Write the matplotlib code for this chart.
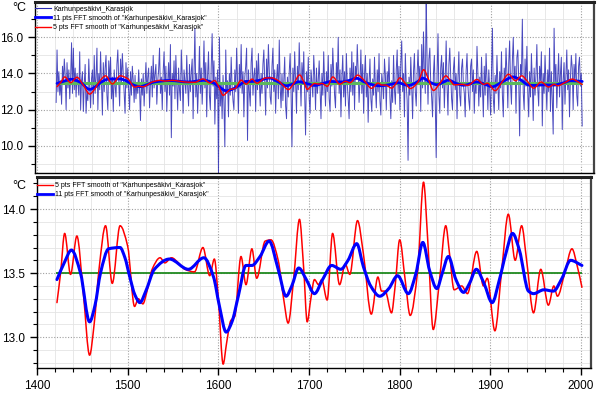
import numpy as np
import matplotlib
matplotlib.use("Agg")
import matplotlib.pyplot as plt
from matplotlib.ticker import MultipleLocator, FormatStrFormatter
from matplotlib.path import Path
from matplotlib.patches import PathPatch
from matplotlib.lines import Line2D

plt.rcParams['font.family'] = ['Liberation Sans', 'DejaVu Sans']

# ---------------- data ----------------
start_year = 1421
annual = [
    12.4, 15.3, 13.0, 14.1, 12.8, 13.6, 12.3, 14.4, 13.5, 14.8,
    13.9, 12.0, 14.6, 13.2, 14.2, 12.6, 13.8, 15.7, 12.9, 15.4,
    13.1, 14.3, 12.7, 14.0, 13.5, 12.8, 15.2, 12.0, 13.6, 14.1,
    11.9, 13.4, 14.5, 11.8, 13.0, 12.5, 14.8, 13.2, 12.1, 13.7,
    14.2, 12.3, 15.0, 12.9, 13.8, 15.4, 12.0, 14.0, 13.1, 15.2,
    13.4, 11.7, 14.6, 13.0, 14.3, 15.0, 12.8, 12.0, 14.7, 13.5,
    14.9, 12.6, 13.8, 11.9, 14.2, 13.3, 12.7, 14.5, 15.3, 13.6,
    12.2, 14.8, 13.5, 15.1, 14.0, 12.9, 11.8, 14.6, 13.2, 14.3,
    13.0, 12.0, 14.1, 12.8, 14.4, 13.6, 12.4, 13.9, 12.6, 13.5,
    12.9, 14.2, 13.1, 11.4, 13.7, 12.8, 14.0, 12.2, 13.4, 14.6,
    12.9, 13.8, 14.3, 12.1, 13.5, 14.4, 12.7, 15.0, 13.2, 14.0,
    14.5, 12.3, 13.6, 14.2, 15.4, 12.9, 13.8, 12.0, 14.1, 15.2,
    13.0, 14.4, 11.9, 13.5, 14.6, 12.8, 15.6, 10.45, 14.0, 13.3,
    14.7, 12.6, 15.0, 13.4, 12.0, 14.3, 13.1, 12.5, 15.3, 13.8,
    11.8, 14.2, 13.6, 12.9, 15.0, 13.3, 12.2, 14.5, 13.0, 14.1,
    14.8, 11.5, 13.9, 16.5, 12.7, 14.0, 11.8, 13.4, 15.5, 12.9,
    14.3, 12.3, 13.7, 15.8, 13.2, 14.6, 11.6, 13.9, 15.2, 12.8,
    12.0, 14.4, 16.2, 13.3, 14.7, 11.2, 13.8, 12.6, 14.2, 8.4,
    16.0, 12.2, 13.5, 11.5, 13.9, 12.4, 9.95, 15.3, 12.9, 13.6,
    11.6, 14.0, 12.8, 14.9, 13.3, 12.5, 12.0, 14.2, 13.0, 15.4,
    13.7, 11.8, 14.5, 13.2, 15.6, 12.9, 14.1, 11.6, 13.8, 14.4,
    15.4, 10.3, 14.2, 13.0, 12.2, 14.6, 15.4, 12.8, 13.9, 14.3,
    11.9, 14.7, 13.1, 15.1, 13.6, 12.2, 14.0, 12.9, 14.5, 15.3,
    13.4, 11.7, 14.8, 13.2, 15.6, 14.1, 12.7, 12.3, 14.4, 15.4,
    13.0, 14.2, 11.8, 13.7, 14.5, 12.6, 15.85, 13.3, 12.1, 14.0,
    12.5, 13.6, 14.9, 12.2, 11.5, 13.8, 12.7, 14.1, 15.1, 12.9,
    9.95, 14.3, 13.0, 15.2, 13.6, 11.8, 14.4, 13.1, 15.7, 14.0,
    12.2, 14.6, 13.4, 15.2, 12.8, 10.6, 14.1, 13.0, 14.9, 12.6,
    11.8, 14.2, 13.5, 12.7, 15.0, 13.9, 12.0, 14.3, 12.9, 13.6,
    14.7, 13.1, 11.5, 14.0, 12.8, 15.2, 13.4, 12.2, 14.1, 13.0,
    15.0, 12.6, 11.9, 14.5, 13.3, 15.4, 14.0, 12.8, 12.1, 14.6,
    13.5, 16.0, 12.9, 14.2, 11.6, 13.8, 15.0, 12.7, 14.1, 12.2,
    15.1, 13.4, 12.6, 11.5, 14.3, 13.0, 15.2, 12.8, 14.6, 12.0,
    14.4, 13.7, 15.6, 14.1, 12.4, 13.6, 15.3, 12.9, 14.5, 11.8,
    13.9, 15.0, 12.7, 14.0, 11.3, 13.5, 14.8, 12.6, 11.9, 13.7,
    12.8, 14.9, 13.2, 12.1, 14.2, 13.0, 15.1, 12.5, 11.7, 14.0,
    13.4, 12.6, 14.8, 13.9, 12.0, 14.1, 13.3, 14.9, 12.7, 11.5,
    13.6, 12.4, 15.0, 13.1, 12.3, 14.2, 15.3, 12.9, 14.4, 12.0,
    14.6, 15.8, 13.0, 14.0, 11.6, 15.1, 13.4, 12.5, 9.2, 13.8,
    12.8, 14.9, 13.3, 11.5, 14.1, 15.1, 13.0, 12.2, 14.0, 15.3,
    13.6, 14.4, 11.9, 15.6, 13.2, 16.3, 14.1, 12.9, 18.3, 14.6,
    12.3, 14.8, 15.4, 13.5, 12.7, 11.6, 14.0, 15.0, 12.4, 9.35,
    13.9, 16.2, 12.8, 11.8, 14.3, 15.0, 13.2, 14.6, 12.1, 13.7,
    15.8, 13.3, 11.7, 14.5, 15.4, 13.9, 12.6, 12.0, 14.2, 14.9,
    13.1, 14.0, 11.5, 13.7, 15.2, 12.8, 12.2, 14.3, 14.8, 13.4,
    12.9, 11.6, 14.1, 15.1, 13.3, 12.5, 12.0, 14.4, 14.8, 13.0,
    14.2, 11.8, 13.6, 12.9, 15.5, 14.0, 12.2, 13.8, 12.7, 14.9,
    13.3, 11.6, 14.4, 12.8, 15.1, 13.7, 12.0, 14.2, 13.1, 11.7,
    14.0, 16.5, 12.6, 11.8, 13.9, 12.9, 15.0, 13.4, 12.0, 14.1,
    13.2, 15.2, 12.8, 11.6, 14.3, 13.5, 15.4, 14.0, 12.1, 14.6,
    15.8, 13.4, 12.3, 14.7, 16.0, 13.6, 14.4, 11.8, 14.9, 15.3,
    13.7, 10.55, 14.5, 13.9, 17.0, 12.9, 12.0, 14.8, 13.3, 15.5,
    13.0, 11.6, 14.1, 12.7, 15.1, 13.5, 11.4, 14.3, 12.8, 13.9,
    15.6, 13.2, 12.2, 14.4, 13.6, 15.2, 11.1, 14.0, 12.9, 15.0,
    13.5, 12.0, 14.2, 13.0, 15.4, 11.9, 14.1, 12.6, 10.65, 16.5,
    13.4, 14.5, 12.1, 13.8, 15.1, 12.7, 14.0, 14.9, 10.9, 13.6,
    14.6, 12.3, 13.9, 15.3, 13.1, 14.2, 11.6, 13.7, 15.0, 14.3,
    12.0, 14.5, 13.6, 15.1, 12.8, 12.2, 14.4, 14.9, 13.3, 14.0,
    11.1,
]
years = np.arange(start_year, start_year + len(annual))

s11_years = [1422, 1430, 1438, 1448, 1458, 1464, 1470, 1479, 1491.6, 1497, 1502,
             1508, 1513.5, 1520, 1529.5, 1546, 1567, 1584, 1594.7, 1601, 1608.6,
             1615, 1622, 1630.5, 1637, 1646, 1656, 1666, 1674.7, 1681, 1688.6,
             1697, 1706, 1715, 1725, 1735, 1743, 1752.6, 1760, 1768, 1778, 1788,
             1797.7, 1809.5, 1818, 1825.5, 1833, 1841, 1847, 1853.7, 1862, 1870.5,
             1877, 1884.5, 1893, 1902, 1910, 1917, 1924.5, 1932, 1942, 1947.6,
             1959, 1969.5, 1979, 1988.4, 2001]
s11_vals = [13.45, 13.58, 13.68, 13.50, 13.12, 13.25, 13.50, 13.69, 13.70, 13.62, 13.48,
            13.33, 13.27, 13.36, 13.53, 13.61, 13.53, 13.62, 13.47, 13.25, 13.04,
            13.12, 13.32, 13.56, 13.56, 13.63, 13.75, 13.53, 13.32, 13.40, 13.54,
            13.45, 13.34, 13.45, 13.56, 13.53, 13.60, 13.73, 13.55, 13.40, 13.32, 13.38,
            13.48, 13.34, 13.50, 13.74, 13.52, 13.38, 13.50, 13.63, 13.45, 13.35,
            13.42, 13.53, 13.42, 13.27, 13.45, 13.65, 13.81, 13.68, 13.36, 13.34,
            13.37, 13.36, 13.46, 13.60, 13.56]

s5_years = [1422, 1426, 1430.5, 1437, 1444, 1451, 1458, 1463, 1468.4, 1475.6, 1483,
            1491.6, 1500, 1507.6, 1511.7, 1516.8, 1521, 1527, 1535.8, 1541, 1548.4,
            1556, 1563, 1573.7, 1583, 1590.5, 1595.6, 1600, 1605.3, 1609, 1613.7,
            1618, 1625, 1630.5, 1637, 1642.3, 1651.6, 1658, 1666, 1672, 1677, 1683,
            1689.5, 1694, 1698, 1702, 1706, 1710.5, 1714, 1720, 1726, 1733.7, 1740,
            1745, 1753.5, 1760, 1768.7, 1776, 1780, 1784, 1791, 1795, 1800, 1806,
            1811.6, 1820, 1826.3, 1831, 1837, 1844, 1850.8, 1855, 1860, 1868.4, 1874.7,
            1885, 1892.4, 1896.6, 1905, 1912.6, 1919.8, 1927.4, 1934.5, 1940, 1947.6,
            1955.6, 1964, 1970, 1974, 1982, 1990, 1996, 2001]
s5_vals = [13.27, 13.50, 13.81, 13.49, 13.79, 13.35, 12.86, 13.10, 13.53, 13.87, 13.42,
           13.87, 13.71, 13.24, 13.30, 13.26, 13.35, 13.53, 13.62, 13.58, 13.62,
           13.58, 13.53, 13.51, 13.70, 13.48, 13.61, 13.30, 12.79, 12.95, 13.13,
           13.16, 13.63, 13.41, 13.69, 13.46, 13.75, 13.76, 13.60, 13.30, 13.11, 13.45,
           13.92, 13.55, 13.12, 13.30, 13.45, 13.41, 13.45, 13.29, 13.81, 13.41, 13.57,
           13.49, 13.91, 13.65, 13.18, 13.47, 13.36, 13.36, 13.19, 13.40, 13.76, 13.45,
           13.17, 13.53, 14.21, 13.75, 13.06, 13.45, 13.87, 13.65, 13.37, 13.40, 13.34,
           13.67, 13.40, 13.46, 13.05, 13.53, 13.96, 13.60, 13.87, 13.60, 13.19,
           13.53, 13.25, 13.40, 13.32, 13.50, 13.69, 13.55, 13.39]

mean_level = 13.5
label_raw = 'Karhunpesäkivi_Karasjok'
label_11 = '11 pts FFT smooth of "Karhunpesäkivi_Karasjok"'
label_5 = '5 pts FFT smooth of "Karhunpesäkivi_Karasjok"'

# colours / styles
C_RAW = '#2a2ab4'
C_11 = '#0000ff'
C_5 = '#ff0000'
C_MEAN_TOP = '#5cb85c'
C_MEAN_BOT = '#1f8a1f'


def smooth_line(ax, xs, ys, color, lw, zorder):
    """Draw a smooth (monotone cubic Bezier) line through the given points."""
    x = np.asarray(xs, float)
    y = np.asarray(ys, float)
    h = np.diff(x)
    d = np.diff(y) / h
    m = np.empty_like(y)
    m[0], m[-1] = d[0], d[-1]
    for k in range(1, len(x) - 1):
        if d[k - 1] * d[k] <= 0:
            m[k] = 0.0
        else:
            w1 = 2 * h[k] + h[k - 1]
            w2 = h[k] + 2 * h[k - 1]
            m[k] = (w1 + w2) / (w1 / d[k - 1] + w2 / d[k])
    verts = [(x[0], y[0])]
    codes = [Path.MOVETO]
    for k in range(len(x) - 1):
        verts += [(x[k] + h[k] / 3, y[k] + m[k] * h[k] / 3),
                  (x[k + 1] - h[k] / 3, y[k + 1] - m[k + 1] * h[k] / 3),
                  (x[k + 1], y[k + 1])]
        codes += [Path.CURVE4] * 3
    patch = PathPatch(Path(verts, codes), fill=False, edgecolor=color,
                      linewidth=lw, zorder=zorder, capstyle='round', joinstyle='round')
    ax.add_patch(patch)
    return patch


# ---------------- figure ----------------
W, H = 600, 395
fig = plt.figure(figsize=(W / 100, H / 100), dpi=100)
fig.patch.set_facecolor('white')


def px_axes(l, t, r, b):
    return fig.add_axes([l / W, 1 - b / H, (r - l) / W, (b - t) / H])


ax1 = px_axes(35, 2, 594, 173)
ax2 = px_axes(37, 177, 591, 368)


def style(ax, major_y, minor_y):
    ax.xaxis.set_major_locator(MultipleLocator(100))
    ax.xaxis.set_minor_locator(MultipleLocator(20))
    ax.yaxis.set_major_locator(MultipleLocator(major_y))
    ax.yaxis.set_minor_locator(MultipleLocator(minor_y))
    ax.grid(which='minor', color='#e4e4e4', linewidth=0.6, linestyle='-')
    ax.grid(which='major', color='#a0a0a0', linewidth=0.8, linestyle=(0, (1, 1.5)))
    ax.set_axisbelow(True)
    ax.tick_params(which='major', direction='out', length=5, width=1, labelsize=8.5, colors='black')
    ax.tick_params(which='minor', direction='out', length=3, width=0.8)
    for s in ('left', 'bottom'):
        ax.spines[s].set_linewidth(1.0)
        ax.spines[s].set_color('black')
    ax.spines['top'].set_linewidth(2.2)
    ax.spines['top'].set_color('#222222')
    ax.spines['right'].set_linewidth(1.6)
    ax.spines['right'].set_color('#444444')


legend_kw = dict(frameon=False, fontsize=5.0, handlelength=2.4, handletextpad=0.3,
                 labelspacing=0.3, borderpad=0.2, borderaxespad=0.0)

# top panel
style(ax1, 2.0, 1.0)
ax1.plot(years, annual, color=C_RAW, linewidth=0.7, alpha=0.85, zorder=2)
ax1.hlines(mean_level, years[0], years[-1], color=C_MEAN_TOP, linewidth=2.2, zorder=3)
smooth_line(ax1, s11_years, s11_vals, C_11, 2.0, 4)
smooth_line(ax1, s5_years, s5_vals, C_5, 1.0, 5)
ax1.set_xlim(1397.7, 2014)
ax1.set_ylim(8.5, 17.95)
ax1.yaxis.set_major_formatter(FormatStrFormatter('%.1f'))
ax1.tick_params(axis='x', which='both', bottom=False, labelbottom=False)
handles1 = [Line2D([], [], color=C_RAW, linewidth=0.8),
            Line2D([], [], color=C_11, linewidth=2.0),
            Line2D([], [], color=C_5, linewidth=1.0)]
ax1.legend(handles1, [label_raw, label_11, label_5], loc='upper left',
           bbox_to_anchor=(-0.003, 0.986), **legend_kw)

# bottom panel
style(ax2, 0.5, 0.1)
ax2.hlines(mean_level, years[0], years[-1], color=C_MEAN_BOT, linewidth=1.3, zorder=3)
smooth_line(ax2, s5_years, s5_vals, C_5, 1.1, 4)
smooth_line(ax2, s11_years, s11_vals, C_11, 2.2, 5)
ax2.set_xlim(1400, 2011)
ax2.set_ylim(12.76, 14.25)
ax2.yaxis.set_major_formatter(FormatStrFormatter('%.1f'))
handles2 = [Line2D([], [], color=C_5, linewidth=1.0),
            Line2D([], [], color=C_11, linewidth=2.0)]
ax2.legend(handles2, [label_5, label_11], loc='upper left',
           bbox_to_anchor=(-0.003, 0.979), **legend_kw)

fig.text(12 / W, 1 - 8 / H, '°C', fontsize=9, ha='left', va='center')
fig.text(12 / W, 1 - 186 / H, '°C', fontsize=9, ha='left', va='center')

fig.savefig('out.png', dpi=100)
